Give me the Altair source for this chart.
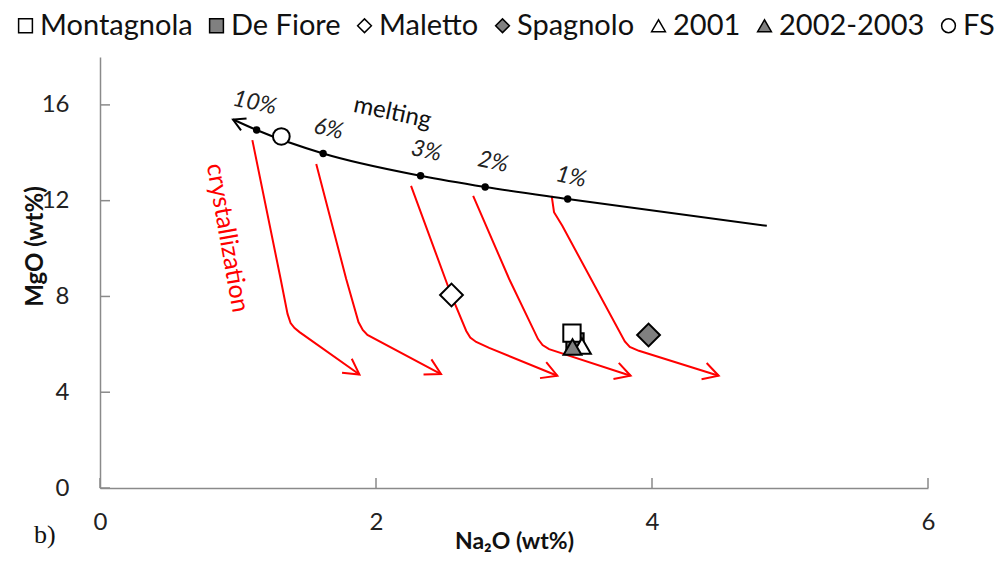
import altair as alt
import pandas as pd

# ---------------- data ----------------
# melting trend (arrow tip first, then 10%,6%,3%,2%,1% points, then end)
melt_x = [0.964, 1.135, 1.617, 2.323, 2.791, 3.389, 4.832]
melt_y = [15.39, 14.95, 13.97, 13.04, 12.57, 12.07, 10.95]

pct_x = [1.135, 1.617, 2.323, 2.791, 3.389]
pct_y = [14.95, 13.97, 13.04, 12.57, 12.07]
pct_labels = ["10%", "6%", "3%", "2%", "1%"]
pct_label_x = [1.121, 1.656, 2.364, 2.849, 3.413]
pct_label_y = [16.08, 14.99, 14.07, 13.61, 12.99]

# crystallization paths (one per melting degree)
c1_x = [1.104, 1.309, 1.359, 1.381, 1.410, 1.446, 1.880]
c1_y = [14.53, 8.73, 7.27, 6.89, 6.68, 6.51, 4.74]
c2_x = [1.567, 1.784, 1.873, 1.904, 1.938, 2.471]
c2_y = [13.53, 8.73, 6.93, 6.60, 6.39, 4.76]
c3_x = [2.254, 2.545, 2.654, 2.683, 2.726, 2.820, 3.314]
c3_y = [12.62, 8.06, 6.56, 6.28, 6.10, 5.85, 4.69]
c4_x = [2.704, 2.965, 3.174, 3.207, 3.254, 3.845]
c4_y = [12.20, 8.73, 6.22, 5.97, 5.80, 4.69]
c5_x = [3.273, 3.290, 3.350, 3.803, 3.839, 3.905, 4.483]
c5_y = [12.20, 11.52, 10.95, 6.12, 5.89, 5.73, 4.69]
cryst_arrow_angle = [34.7, 27.5, 21.3, 18.1, 17.4]
melt_arrow_angle = 204.6

# samples
series = ["Montagnola", "De Fiore", "Maletto", "Spagnolo", "2001", "2002-2003", "FS"]
sample_x = [3.420, 3.442, 2.547, 3.975, 3.492, 3.424, 1.314]
sample_y = [6.47, 6.10, 8.06, 6.39, 5.93, 5.89, 14.68]
sample_z = [1, 0, 2, 3, 4, 5, 6]
sample_size = [300, 300, 520, 520, 320, 320, 280]
shapes = ["square", "square", "diamond", "diamond", "triangle-up", "triangle-up", "circle"]
fills = ["white", "#808080", "white", "#808080", "white", "#808080", "white"]
strokes = ["black"] * 7

x_ticks = [0, 2, 4, 6]
y_ticks = [0, 4, 8, 12, 16]

melt_note = ["melting", 2.119, 15.66, 12]
cryst_note = ["crystallization", 0.925, 10.45, 80]
panel_note = ["b)", -0.40, -1.97]

# ---------------- chart ----------------
W, H = 828, 431
FONT = "Lato"
AX = "#8a8a8a"

xscale = alt.Scale(domain=[0, 6], nice=False, zero=False)
yscale = alt.Scale(domain=[0, 18], nice=False, zero=False)

xaxis = alt.Axis(values=x_ticks, title="Na₂O (wt%)", grid=False, tickSize=0,
                 domainColor=AX, domainWidth=1.5, labelFont=FONT, labelFontSize=24,
                 labelColor="#222222", labelPadding=22, labelFlush=False,
                 titleFont=FONT, titleFontSize=23, titleFontWeight="bold",
                 titleColor="#111111", titleY=53, titleBaseline="middle")
yaxis = alt.Axis(values=y_ticks, title="MgO (wt%)", grid=False, tickSize=0,
                 domainColor=AX, domainWidth=1.5, labelFont=FONT, labelFontSize=24,
                 labelColor="#222222", labelPadding=31, labelFlush=False,
                 titleFont=FONT, titleFontSize=24, titleFontWeight="bold",
                 titleColor="#111111", titleAngle=270, titleX=-65, titleY=189,
                 titleAlign="center", titleBaseline="middle")


def X():
    return alt.X("x:Q", scale=xscale, axis=xaxis)


def Y():
    return alt.Y("y:Q", scale=yscale, axis=yaxis)


melt_df = pd.DataFrame({"x": melt_x, "y": melt_y, "i": range(len(melt_x))})
pct_df = pd.DataFrame({"x": pct_x, "y": pct_y})
pct_lab_df = pd.DataFrame({"x": pct_label_x, "y": pct_label_y, "t": pct_labels})

rows = []
for k, (cx, cy) in enumerate([(c1_x, c1_y), (c2_x, c2_y), (c3_x, c3_y), (c4_x, c4_y), (c5_x, c5_y)]):
    for j, (a, b) in enumerate(zip(cx, cy)):
        rows.append({"x": a, "y": b, "c": k, "i": j})
cryst_df = pd.DataFrame(rows)
cryst_tip_df = pd.DataFrame({
    "x": [c[-1] for c in (c1_x, c2_x, c3_x, c4_x, c5_x)],
    "y": [c[-1] for c in (c1_y, c2_y, c3_y, c4_y, c5_y)],
    "ang": cryst_arrow_angle,
})
melt_tip_df = pd.DataFrame({"x": [melt_x[0]], "y": [melt_y[0]], "ang": [melt_arrow_angle]})

samples_df = pd.DataFrame({"x": sample_x, "y": sample_y, "series": series,
                           "z": sample_z, "s": sample_size})

CHEVRON = "M-1,-0.56L0,0L-1,0.56"

ytick_df = pd.DataFrame({"y": y_ticks})
xtick_df = pd.DataFrame({"x": x_ticks})

ytick_layer = alt.Chart(ytick_df).mark_rule(color=AX, strokeWidth=1.5).encode(
    y=Y(), x=alt.value(0), x2=alt.value(10))
xtick_layer = alt.Chart(xtick_df).mark_rule(color=AX, strokeWidth=1.5).encode(
    x=X(), y=alt.value(H), y2=alt.value(H - 10))

melt_line = alt.Chart(melt_df).mark_line(color="black", strokeWidth=2, interpolate="monotone").encode(
    x=X(), y=Y(), order="i:Q")
melt_arrow = alt.Chart(melt_tip_df).mark_point(shape=CHEVRON, filled=False, color="black",
                                               strokeWidth=2, size=560, opacity=1).encode(
    x=X(), y=Y(), angle=alt.Angle("ang:Q", scale=None))
pct_dots = alt.Chart(pct_df).mark_circle(color="black", size=55, opacity=1).encode(x=X(), y=Y())
pct_text = alt.Chart(pct_lab_df).mark_text(font=FONT, fontSize=23, fontStyle="italic",
                                           angle=12, color="#222222").encode(x=X(), y=Y(), text="t:N")

cryst_lines = alt.Chart(cryst_df).mark_line(color="#ff0000", strokeWidth=2).encode(
    x=X(), y=Y(), detail="c:N", order="i:Q")
cryst_arrows = alt.Chart(cryst_tip_df).mark_point(shape=CHEVRON, filled=False, color="#ff0000",
                                                  strokeWidth=2, size=930, opacity=1).encode(
    x=X(), y=Y(), angle=alt.Angle("ang:Q", scale=None))

note_melt = alt.Chart(pd.DataFrame({"t": [melt_note[0]], "x": [melt_note[1]], "y": [melt_note[2]]})).mark_text(
    font=FONT, fontSize=24, angle=melt_note[3], color="#111111").encode(x=X(), y=Y(), text="t:N")
note_cryst = alt.Chart(pd.DataFrame({"t": [cryst_note[0]], "x": [cryst_note[1]], "y": [cryst_note[2]]})).mark_text(
    font=FONT, fontSize=25, angle=cryst_note[3], color="#ff0000").encode(x=X(), y=Y(), text="t:N")
note_panel = alt.Chart(pd.DataFrame({"t": [panel_note[0]], "x": [panel_note[1]], "y": [panel_note[2]]})).mark_text(
    font="Liberation Serif", fontSize=26, color="#111111").encode(x=X(), y=Y(), text="t:N")

legend = alt.Legend(title=None, orient="none", legendX=-89, legendY=-46, direction="horizontal",
                    labelFont=FONT, labelFontSize=29, labelColor="#111111", labelOffset=0,
                    labelLimit=0,
                    symbolSize=190, symbolStrokeColor="black", symbolStrokeWidth=1.5,
                    columnPadding=9, columns=7, padding=0)

samples = alt.Chart(samples_df).mark_point(filled=True, strokeWidth=2, opacity=1).encode(
    x=X(), y=Y(),
    shape=alt.Shape("series:N", scale=alt.Scale(domain=series, range=shapes), legend=legend),
    fill=alt.Fill("series:N", scale=alt.Scale(domain=series, range=fills), legend=legend),
    stroke=alt.Stroke("series:N", scale=alt.Scale(domain=series, range=strokes), legend=legend),
    size=alt.Size("s:Q", scale=None),
    order=alt.Order("z:Q"),
)

chart = alt.layer(
    ytick_layer, xtick_layer,
    cryst_lines, cryst_arrows,
    melt_line, melt_arrow, pct_dots, pct_text,
    note_melt, note_cryst, note_panel,
    samples,
).properties(
    width=W, height=H,
    autosize=alt.AutoSizeParams(type="none"),
    padding={"left": 92, "top": 49, "right": 70, "bottom": 65},
    background="white",
).configure_view(stroke=None)

chart.save("out.html", embed_options={"renderer": "svg", "actions": False})
